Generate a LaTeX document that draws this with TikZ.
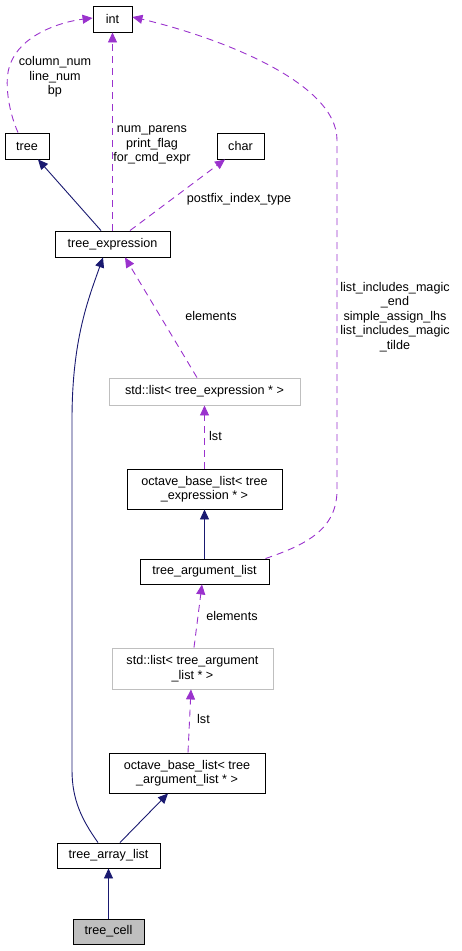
\documentclass[tikz,border=0pt]{standalone}
\usepackage{fontspec}
\setmainfont{Liberation Sans}
\usetikzlibrary{arrows.meta}
\definecolor{navy}{HTML}{191970}
\definecolor{orchid}{HTML}{9A32CD}
\definecolor{lgray}{HTML}{BFBFBF}
\begin{document}
\begin{tikzpicture}[x=1pt,y=-1pt,
  font=\fontsize{12.6}{14.5}\selectfont,
  cls/.style={draw=black, line width=0.9pt, fill=white, inner sep=0pt, align=center},
  ext/.style={draw=lgray, line width=0.9pt, fill=white, inner sep=0pt, align=center},
  cur/.style={draw=black, line width=0.9pt, fill=lgray, inner sep=0pt, align=center},
  inh/.style={draw=navy, line width=0.9pt, -{Triangle[length=10pt,width=9pt]}},
  use/.style={draw=orchid, line width=0.9pt, dash pattern=on 7pt off 5pt, -{Triangle[length=10pt,width=9pt]}},
  lbl/.style={align=center, inner sep=0pt}]
\useasboundingbox (0,0) rectangle (462,951);
% nodes
\node[cls, minimum width=39pt, minimum height=26pt] (int) at (112.5,19) {int};
\node[cls, minimum width=44pt, minimum height=26pt] (tree) at (27,146) {tree};
\node[cls, minimum width=47pt, minimum height=26pt] (char) at (240.5,146) {char};
\node[cls, minimum width=115pt, minimum height=26pt] (texpr) at (112.5,244) {tree\_expression};
\node[ext, minimum width=191pt, minimum height=27pt] (slist1) at (204.5,391.5) {std::list< tree\_expression * >};
\node[cls, minimum width=155pt, minimum height=40pt] (obl1) at (204.5,489) {octave\_base\_list< tree\\\_expression * >};
\node[cls, minimum width=129pt, minimum height=25pt] (targ) at (204.5,571.5) {tree\_argument\_list};
\node[ext, minimum width=161pt, minimum height=41pt] (slist2) at (192.5,668.5) {std::list< tree\_argument\\\_list * >};
\node[cls, minimum width=156pt, minimum height=40pt] (obl2) at (187,773) {octave\_base\_list< tree\\\_argument\_list * >};
\node[cls, minimum width=103pt, minimum height=25pt] (tarr) at (108.5,855.5) {tree\_array\_list};
\node[cur, minimum width=71pt, minimum height=25pt] (tcell) at (108.5,931.5) {tree\_cell};
% edges
\draw[inh] (tcell.north) -- (tarr.south);
\draw[inh] ([xshift=11.5pt]tarr.north) -- ([xshift=-19pt]obl2.south);
\draw[inh] ([xshift=-10.5pt]tarr.north) .. controls (82,820) and (72,800) .. (72,770)
  -- (72,420) .. controls (72,340) and (88,300) .. ([xshift=-9.5pt]texpr.south);
\draw[use] ([xshift=1pt]obl2.north) -- ([xshift=-1.5pt]slist2.south);
\node[lbl, anchor=west] (l1) at (197,719) {lst};
\draw[use] ([xshift=1.5pt]slist2.north) -- ([xshift=-2.5pt]targ.south);
\node[lbl] (l2) at (232,616) {elements};
\draw[inh] (targ.north) -- (obl1.south);
\draw[use] (obl1.north) -- (slist1.south);
\node[lbl, anchor=west] (l3) at (209,436) {lst};
\draw[use] ([xshift=-7.5pt]slist1.north) -- ([xshift=12.5pt]texpr.south);
\node[lbl] (l4) at (211,316) {elements};
\draw[use] ([xshift=-4pt]targ.north east) .. controls (305,545) and (337,530) .. (337,490)
  -- (337,140) .. controls (337,80) and (210,35) .. ([yshift=2pt]int.east);
\node[lbl] (l5) at (395,317) {list\_includes\_magic\\\_end\\simple\_assign\_lhs\\list\_includes\_magic\\\_tilde};
\draw[use] (texpr.north) -- (int.south);
\node[lbl] (l6) at (152,145) {num\_parens\\print\_flag\\for\_cmd\_expr};
\draw[use] ([xshift=17.5pt]texpr.north) -- ([xshift=-15.5pt]char.south);
\node[lbl] (l7) at (239,199) {postfix\_index\_type};
\draw[inh] ([xshift=-11.5pt]texpr.north) -- ([xshift=11pt]tree.south);
\draw[use] ([xshift=-9pt]tree.north) .. controls (8,110) and (4,80) .. (10,65)
  .. controls (20,35) and (60,22) .. ([yshift=1pt]int.west);
\node[lbl] (l8) at (55,77) {column\_num\\line\_num\\bp};
\end{tikzpicture}
\end{document}
